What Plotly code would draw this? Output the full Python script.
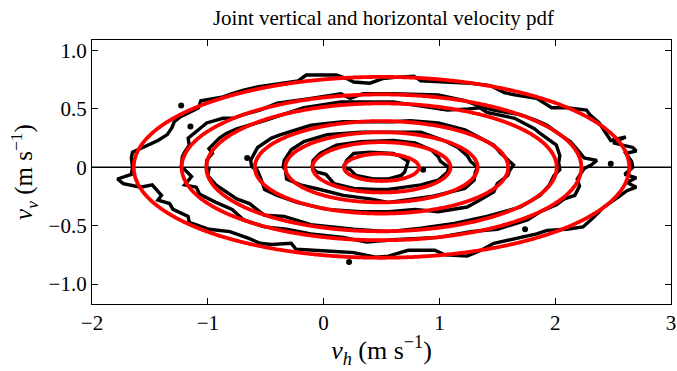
import numpy as np
import plotly.graph_objects as go

# Gaussian fit to the joint pdf (relative contour levels of the peak)
fit_mean_h = 0.5
fit_mean_v = 0.0
fit_sigma_h = 0.705
fit_sigma_v = 0.255
fit_levels = [0.01, 0.05, 0.1, 0.3, 0.5, 0.7, 0.9]

# Empirical pdf contours (outer to inner), traced vertices (v_h, v_v)
emp1_h = [-1.65, -1.66, -1.65, -1.54, -1.43, -1.35, -1.31, -1.29, -1.24, -1.16, -1.08, -1.06, -0.99, -0.88,
          -0.79, -0.69, -0.56, -0.36, -0.22, -0.15, 0.11, 0.20, 0.26, 0.40, 0.51, 0.62, 0.78, 0.84, 1.05,
          1.27, 1.44, 1.56, 1.65, 1.84, 1.97, 2.10, 2.27, 2.30, 2.38, 2.48, 2.61, 2.50, 2.67, 2.70, 2.61,
          2.66, 2.67, 2.60, 2.70, 2.62, 2.70, 2.62, 2.55, 2.42, 2.33, 2.24, 2.10, 1.93, 1.84, 1.70, 1.47,
          1.36, 1.24, 1.05, 0.96, 0.73, 0.56, 0.45, 0.26, 0.10, -0.10, -0.24, -0.28, -0.45, -0.55, -0.64,
          -0.81, -0.99, -1.16, -1.17, -1.30, -1.33, -1.43, -1.40, -1.48, -1.58, -1.73, -1.78, -1.66, -1.65]
emp1_v = [0.00, 0.08, 0.13, 0.18, 0.23, 0.28, 0.34, 0.39, 0.43, 0.47, 0.51, 0.57, 0.58, 0.60,
          0.63, 0.66, 0.69, 0.72, 0.74, 0.79, 0.79, 0.76, 0.73, 0.72, 0.76, 0.77, 0.78, 0.74, 0.73,
          0.72, 0.70, 0.64, 0.62, 0.59, 0.51, 0.51, 0.49, 0.45, 0.38, 0.23, 0.26, 0.21, 0.17, 0.14, 0.12,
          0.05, 0.00, -0.06, -0.09, -0.13, -0.17, -0.20, -0.25, -0.34, -0.43, -0.51, -0.53, -0.54, -0.57, -0.60, -0.65,
          -0.71, -0.76, -0.75, -0.71, -0.71, -0.76, -0.77, -0.73, -0.72, -0.71, -0.70, -0.65, -0.66, -0.65, -0.61,
          -0.55, -0.53, -0.47, -0.42, -0.36, -0.31, -0.28, -0.24, -0.15, -0.17, -0.14, -0.10, -0.06, 0.00]

emp2_h = [-1.23, -1.22, -1.20, -1.16, -1.17, -1.13, -1.07, -1.01, -0.94, -0.87, -0.78, -0.70, -0.55, -0.40,
          -0.11, 0.15, 0.23, 0.34, 0.60, 0.99, 1.22, 1.39, 1.47, 1.70, 1.84, 1.93, 2.04, 2.13, 2.21, 2.25,
          2.36, 2.31, 2.25, 2.19, 2.21, 2.17, 2.08, 2.01, 1.87, 1.76, 1.50, 1.27, 0.99, 0.60, 0.37, 0.17,
          -0.11, -0.32, -0.51, -0.69, -0.79, -0.93, -1.07, -1.10, -1.20, -1.14, -1.20, -1.23]
emp2_v = [0.00, 0.09, 0.13, 0.19, 0.25, 0.28, 0.33, 0.38, 0.40, 0.42, 0.42, 0.45, 0.49, 0.55,
          0.59, 0.63, 0.59, 0.63, 0.63, 0.62, 0.57, 0.51, 0.49, 0.45, 0.40, 0.36, 0.28, 0.22, 0.13, 0.08,
          0.06, 0.02, -0.01, -0.10, -0.16, -0.24, -0.27, -0.32, -0.38, -0.45, -0.53, -0.55, -0.60, -0.62, -0.64, -0.60,
          -0.57, -0.53, -0.51, -0.45, -0.36, -0.30, -0.23, -0.17, -0.15, -0.08, -0.02, 0.00]

emp3_h = [-1.01, -1.01, -0.96, -0.99, -0.90, -0.84, -0.75, -0.64, -0.51, -0.17, 0.15, 0.60, 0.93, 1.07,
          1.25, 1.35, 1.41, 1.65, 1.82, 1.87, 2.01, 2.04, 2.03, 2.04, 1.99, 1.95, 1.87, 1.76, 1.70, 1.41,
          1.13, 0.84, 0.56, 0.26, -0.11, -0.34, -0.51, -0.64, -0.75, -0.84, -0.93, -1.00, -0.99, -1.01]
emp3_v = [0.00, 0.06, 0.12, 0.16, 0.25, 0.29, 0.33, 0.36, 0.40, 0.51, 0.56, 0.56, 0.51, 0.49,
          0.50, 0.51, 0.47, 0.42, 0.33, 0.29, 0.19, 0.10, 0.04, -0.02, -0.07, -0.15, -0.24, -0.31, -0.34, -0.42,
          -0.48, -0.52, -0.55, -0.53, -0.49, -0.42, -0.41, -0.31, -0.27, -0.21, -0.15, -0.07, -0.01, 0.00]

emp4_h = [-0.62, -0.63, -0.57, -0.45, -0.37, -0.11, 0.17, 0.60, 0.75, 0.99, 1.22, 1.39, 1.47, 1.53,
          1.59, 1.64, 1.61, 1.59, 1.50, 1.47, 1.35, 1.24, 0.99, 0.79, 0.56, 0.32, 0.03, -0.23, -0.40,
          -0.51, -0.54, -0.58, -0.62]
emp4_v = [0.00, 0.06, 0.17, 0.25, 0.28, 0.36, 0.39, 0.39, 0.40, 0.38, 0.32, 0.23, 0.19, 0.12,
          0.06, 0.02, -0.02, -0.07, -0.14, -0.21, -0.28, -0.34, -0.38, -0.36, -0.38, -0.38, -0.36, -0.30, -0.24,
          -0.19, -0.10, -0.01, 0.00]

emp5_h = [-0.35, -0.34, -0.28, -0.17, 0.03, 0.32, 0.60, 0.84, 1.04, 1.16, 1.24, 1.27, 1.33, 1.31,
          1.30, 1.22, 0.93, 0.70, 0.56, 0.40, 0.17, -0.03, -0.20, -0.32, -0.33, -0.35]
emp5_v = [0.00, 0.06, 0.15, 0.22, 0.28, 0.30, 0.30, 0.30, 0.23, 0.17, 0.10, 0.05, 0.00, -0.04,
          -0.11, -0.18, -0.25, -0.28, -0.30, -0.27, -0.24, -0.19, -0.15, -0.10, -0.02, 0.00]

emp6_h = [-0.10, -0.09, -0.03, 0.11, 0.32, 0.60, 0.79, 0.93, 0.99, 1.01, 1.08, 1.07, 0.99, 0.84,
          0.70, 0.56, 0.45, 0.26, 0.09, 0.02, -0.06, -0.10]
emp6_v = [0.00, 0.06, 0.12, 0.19, 0.22, 0.23, 0.21, 0.15, 0.09, 0.05, 0.00, -0.04, -0.11, -0.15,
          -0.17, -0.19, -0.19, -0.18, -0.14, -0.06, -0.04, 0.00]

emp7_h = [0.17, 0.20, 0.26, 0.40, 0.60, 0.67, 0.73, 0.71, 0.70, 0.67, 0.56, 0.43, 0.28, 0.23, 0.17]
emp7_v = [0.00, 0.06, 0.12, 0.13, 0.12, 0.09, 0.05, 0.00, -0.04, -0.07, -0.10, -0.10, -0.07, -0.02, 0.00]

# Isolated small islands of the empirical pdf
islands_h = [-1.23, -1.15, -0.66, 0.86, 2.48, 0.22, 1.74]
islands_v = [0.53, 0.35, 0.08, -0.02, 0.03, -0.81, -0.53]

x_tick_vals = [-2, -1, 0, 1, 2, 3]
x_tick_text = ["\u22122", "\u22121", "0", "1", "2", "3"]
y_tick_vals = [-1.0, -0.5, 0.0, 0.5, 1.0]
y_tick_text = ["\u22121.0", "\u22120.5", "0", "0.5", "1.0"]

x_range = [-2, 3]
y_range = [-1.17, 1.09]

FONT = "'Liberation Serif', 'Times New Roman', 'DejaVu Serif', serif"

fig = go.Figure()

# zero line
fig.add_trace(go.Scatter(x=x_range, y=[0, 0], mode="lines",
                         line=dict(color="black", width=1.5),
                         hoverinfo="skip", showlegend=False))

# empirical contours
emp_h = [emp1_h, emp2_h, emp3_h, emp4_h, emp5_h, emp6_h, emp7_h]
emp_v = [emp1_v, emp2_v, emp3_v, emp4_v, emp5_v, emp6_v, emp7_v]
for hh, vv in zip(emp_h, emp_v):
    fig.add_trace(go.Scatter(x=hh, y=vv, mode="lines",
                             line=dict(color="black", width=3.4),
                             hoverinfo="skip", showlegend=False))

fig.add_trace(go.Scatter(x=islands_h, y=islands_v, mode="markers",
                         marker=dict(color="black", size=6),
                         hoverinfo="skip", showlegend=False))

# fitted Gaussian contours, on an overlaid axis pair so they sit on top
h_grid = np.linspace(x_range[0], x_range[1], 301)
v_grid = np.linspace(y_range[0], y_range[1], 227)
H, V = np.meshgrid(h_grid, v_grid)
pdf_rel = np.exp(-0.5 * (((H - fit_mean_h) / fit_sigma_h) ** 2
                         + ((V - fit_mean_v) / fit_sigma_v) ** 2))
pdf_rel = np.round(pdf_rel, 6)

for lev in fit_levels:
    fig.add_trace(go.Contour(
        x=h_grid, y=v_grid, z=pdf_rel,
        xaxis="x2", yaxis="y2",
        autocontour=False,
        contours=dict(start=lev, end=lev, size=1, coloring="lines", showlabels=False),
        colorscale=[[0, "red"], [1, "red"]],
        line=dict(width=3.8, smoothing=1),
        showscale=False, hoverinfo="skip",
    ))

axis_common = dict(
    showline=True, linecolor="black", linewidth=1.3, mirror="ticks",
    ticks="inside", ticklen=6, tickwidth=1.2, tickcolor="black",
    showgrid=False, zeroline=False, ticklabeloverflow="allow",
    tickfont=dict(family=FONT, size=21, color="black"),
)

fig.update_layout(
    width=677, height=371, autosize=False,
    margin=dict(l=92, r=1, t=40, b=67),
    paper_bgcolor="white", plot_bgcolor="white",
    showlegend=False,
    font=dict(family=FONT, color="black"),
    title=dict(text="Joint vertical and horizontal velocity pdf",
               font=dict(family=FONT, size=21, color="black"),
               x=0.5665, xanchor="center", y=0.953, yanchor="middle"),
    xaxis=dict(range=x_range, tickvals=x_tick_vals, ticktext=x_tick_text,
               title=dict(text="<i>v</i><sub><i>h</i></sub> (m s<sup>\u22121</sup>)",
                          font=dict(family=FONT, size=26), standoff=6),
               **axis_common),
    yaxis=dict(range=y_range, tickvals=y_tick_vals, ticktext=y_tick_text,
               title=dict(text="<i>v</i><sub><i>v</i></sub> (m s<sup>\u22121</sup>)",
                          font=dict(family=FONT, size=25), standoff=8),
               **axis_common),
    xaxis2=dict(range=x_range, overlaying="x", visible=False),
    yaxis2=dict(range=y_range, overlaying="y", visible=False),
)

fig.write_html("out.html")
